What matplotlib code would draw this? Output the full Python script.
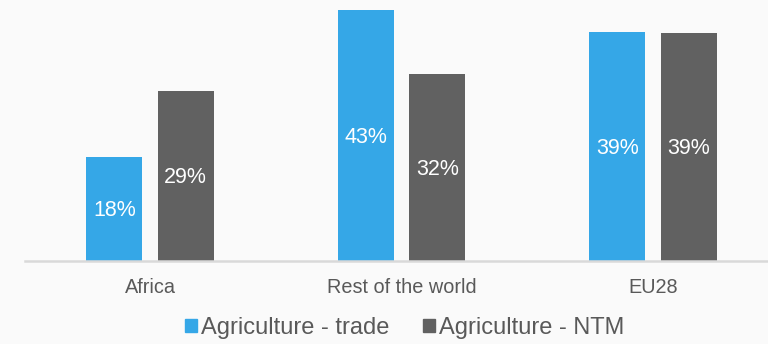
import matplotlib.pyplot as plt
from matplotlib.patches import Patch
import numpy as np

plt.rcParams['font.family'] = ['Liberation Sans', 'DejaVu Sans']

# data
regions = ["Africa", "Rest of the world", "EU28"]
trade = [17.8, 43.0, 39.2]
ntm = [29.1, 32.0, 39.0]
series_names = ["Agriculture - trade", "Agriculture - NTM"]
colors = ["#35a7e7", "#616161"]

fig = plt.figure(figsize=(7.68, 3.44), dpi=100, facecolor="#fafafa")
ax = fig.add_axes([25 / 768, 83 / 344, 1 - 25 / 768, 261 / 344])
ax.set_facecolor("none")

x = np.arange(len(regions))
w = 0.223
off = 0.142
b1 = ax.bar(x - off, trade, w, color=colors[0])
b2 = ax.bar(x + off, ntm, w, color=colors[1])

for bars, vals in ((b1, trade), (b2, ntm)):
    for r, v in zip(bars, vals):
        ax.text(r.get_x() + r.get_width() / 2, v / 2 - 0.3, "%d%%" % round(v),
                ha="center", va="center", color="white", fontsize=15.5)

ax.set_xlim(-125 / 251.5, 618 / 251.5)
ax.set_ylim(0, 44.7)
ax.set_yticks([])
ax.set_xticks(x)
ax.set_xticklabels(regions, fontsize=14.3, color="#595959")
ax.tick_params(axis="x", length=0, pad=12)
for s in ("top", "right", "left"):
    ax.spines[s].set_visible(False)
ax.spines["bottom"].set_color("#d9d9d9")
ax.spines["bottom"].set_linewidth(1.8)

handles = [Patch(color=c, label=n) for c, n in zip(colors, series_names)]
fig.legend(handles=handles, loc="center", bbox_to_anchor=(0.527, 0.047),
           ncol=2, frameon=False, fontsize=17, labelcolor="#595959",
           handlelength=0.5, handleheight=0.5, handletextpad=0.2,
           columnspacing=1.4)

fig.savefig("out.png", facecolor=fig.get_facecolor())
